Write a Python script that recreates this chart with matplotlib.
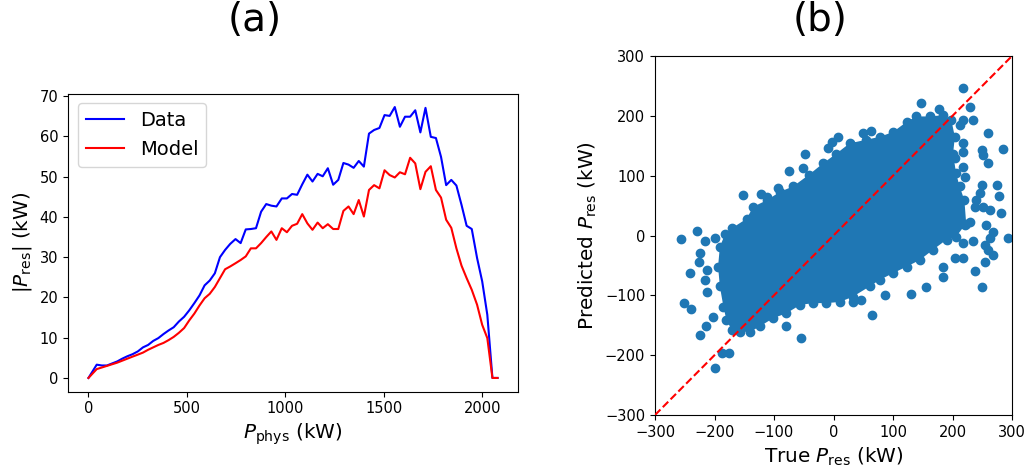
import matplotlib.pyplot as plt

# (a) binned residual power vs physical power
p_phys = [0, 42, 68, 94, 120, 146, 172, 198, 224, 251, 277, 303, 329, 355, 381, 407,
          433, 459, 486, 512, 538, 564, 590, 616, 642, 668, 694, 720, 747, 773, 799,
          825, 851, 877, 903, 929, 955, 982, 1008, 1034, 1060, 1086, 1112, 1138, 1164,
          1190, 1216, 1243, 1269, 1295, 1321, 1347, 1373, 1399, 1425, 1451, 1478, 1504,
          1530, 1556, 1582, 1608, 1634, 1660, 1686, 1712, 1739, 1765, 1791, 1817, 1843,
          1869, 1895, 1921, 1947, 1974, 2000, 2026, 2052, 2078]
res_data = [0, 3.3, 3.1, 3.1, 3.6, 4.1, 4.8, 5.4, 5.9, 6.6,
            7.6, 8.2, 9.2, 9.9, 10.9, 11.8, 12.6, 14.0, 15.2, 16.8,
            18.6, 20.5, 23.0, 24.2, 26.0, 30.0, 31.8, 33.3, 34.5, 33.5,
            36.9, 37.0, 37.2, 41.3, 43.2, 42.8, 42.6, 44.6, 44.6, 45.7,
            45.5, 48.1, 50.5, 48.8, 50.7, 50.1, 52.1, 48.0, 49.2, 53.4,
            53.0, 52.2, 53.9, 52.5, 60.7, 61.6, 62.1, 65.3, 65.1, 67.3,
            62.4, 64.9, 64.9, 66.5, 61.0, 67.1, 59.9, 59.6, 54.9, 47.9,
            49.2, 47.8, 43.0, 37.8, 37.0, 29.8, 24.0, 15.7, 0, 0]
res_model = [0, 2.2, 2.6, 3.0, 3.4, 3.8, 4.3, 4.8, 5.3, 5.8,
             6.3, 7.0, 7.6, 8.2, 8.7, 9.4, 10.2, 11.2, 12.4, 14.3,
             16.0, 18.0, 19.8, 20.9, 22.6, 24.8, 27.0, 27.7, 28.5, 29.3,
             30.2, 32.2, 32.2, 33.5, 35.0, 36.4, 34.3, 37.2, 36.2, 37.8,
             38.3, 40.7, 38.4, 36.8, 38.6, 37.2, 38.2, 37.0, 37.0, 41.5,
             42.6, 40.7, 44.2, 40.1, 46.7, 47.9, 47.1, 51.6, 50.4, 49.8,
             51.1, 50.6, 54.7, 53.3, 46.9, 51.2, 52.6, 46.7, 44.8, 39.3,
             37.3, 32.2, 27.9, 24.8, 21.9, 18.2, 13.2, 9.9, 0, 0]

# (b) true vs predicted: outline of the dense cloud
core_true = [-182, -171, -146, -135, -112, -90, -68, -42, -17, 5, 27, 55, 78, 100,
             123, 139, 162, 184, 198, 204, 201, 206, 212, 220, 223, 206, 190, 167,
             145, 123, 100, 78, 61, 33, 11, -12, -34, -56, -79, -101, -124, -140,
             -157, -171, -180, -185, -191, -194, -191]
core_pred = [3, 12, 28, 48, 59, 73, 82, 101, 121, 137, 154, 160, 165, 173,
             190, 199, 199, 201, 193, 165, 137, 104, 82, 59, 20, -2, -7, -24,
             -41, -52, -63, -74, -85, -102, -111, -113, -113, -116, -130, -138, -152, -161,
             -161, -158, -141, -119, -85, -52, -19]
# single points around the cloud
pts_true = [-257, -229, -241, -252, -240, -224, -214, -199, -188, -175, -200, -216,
            -224, -226, -213, -216, -213, -202, -152, -122, -111, -93, -74, -48, -52,
            -10, 8, -3, 49, 63, 33, 26, 147, 177, 217, 230, 235, 250, 259, 251, 259,
            285, 274, 278, 282, 293, 249, 246, 237, 251, 263, 257, 268, 263, 254, 260,
            268, 254, 237, 249, 235, 218, 217, 204, 184, 184, 156, 130, 64, -54, -79,
            33, 47, 86, 218, 212, 218, 217, 218, 221, 240, 229, 221, 155, 137, 205,
            78, 97, 117]
pts_pred = [-6, 8, -63, -112, -123, -166, -151, -221, -197, -196, -5, -10,
            -30, -45, -58, -74, -94, -136, 68, 69, 64, 79, 108, 137, 113,
            146, 164, 157, 172, 175, 149, 139, 222, 211, 246, 215, 193, 143, 171, 135, 121,
            144, 84, 66, 37, -5, 84, 71, 48, 48, 43, 18, 6, -5, -16, -24,
            -33, -44, -59, -86, -10, -13, -38, -38, -52, -70, -86, -98, -133, -172, -151,
            -111, -108, -99, 193, 185, 154, 140, 115, 98, 59, 23, 18, 190, 185, 129,
            160, 161, 165]
diag = [-300, 300]

fig = plt.figure(figsize=(10.29, 4.72), dpi=100)

ax1 = fig.add_axes([68 / 1029, 80.5 / 472, 450 / 1029, 298 / 472])
ax1.plot(p_phys, res_data, color='b', label='Data')
ax1.plot(p_phys, res_model, color='r', label='Model')
ax1.set_xlabel('$P_{\\rm phys}$ (kW)', fontsize=14.4)
ax1.set_ylabel('$|P_{\\rm res}|$ (kW)', fontsize=14.4)
ax1.tick_params(labelsize=10.5)
ax1.legend(loc='upper left', fontsize=14)
fig.text(255 / 1029, 1 - 20 / 472, '(a)', fontsize=28, ha='center', va='center')

ax2 = fig.add_axes([655 / 1029, 57 / 472, 357 / 1029, 359 / 472])
c = '#1f77b4'
ax2.fill(core_true, core_pred, color=c, lw=0)
ax2.scatter(core_true, core_pred, color=c)
ax2.scatter(pts_true, pts_pred, color=c)
ax2.plot(diag, diag, 'r--', zorder=3)
ax2.set_xlim(-300, 300)
ax2.set_ylim(-300, 300)
ax2.set_xticks(range(-300, 301, 100))
ax2.set_yticks(range(-300, 301, 100))
ax2.set_xlabel('True $P_{\\rm res}$ (kW)', fontsize=14.4)
ax2.set_ylabel('Predicted $P_{\\rm res}$ (kW)', fontsize=14.4)
ax2.tick_params(labelsize=10.5)
fig.text(820 / 1029, 1 - 20 / 472, '(b)', fontsize=28, ha='center', va='center')

fig.savefig('out.png', dpi=100)
